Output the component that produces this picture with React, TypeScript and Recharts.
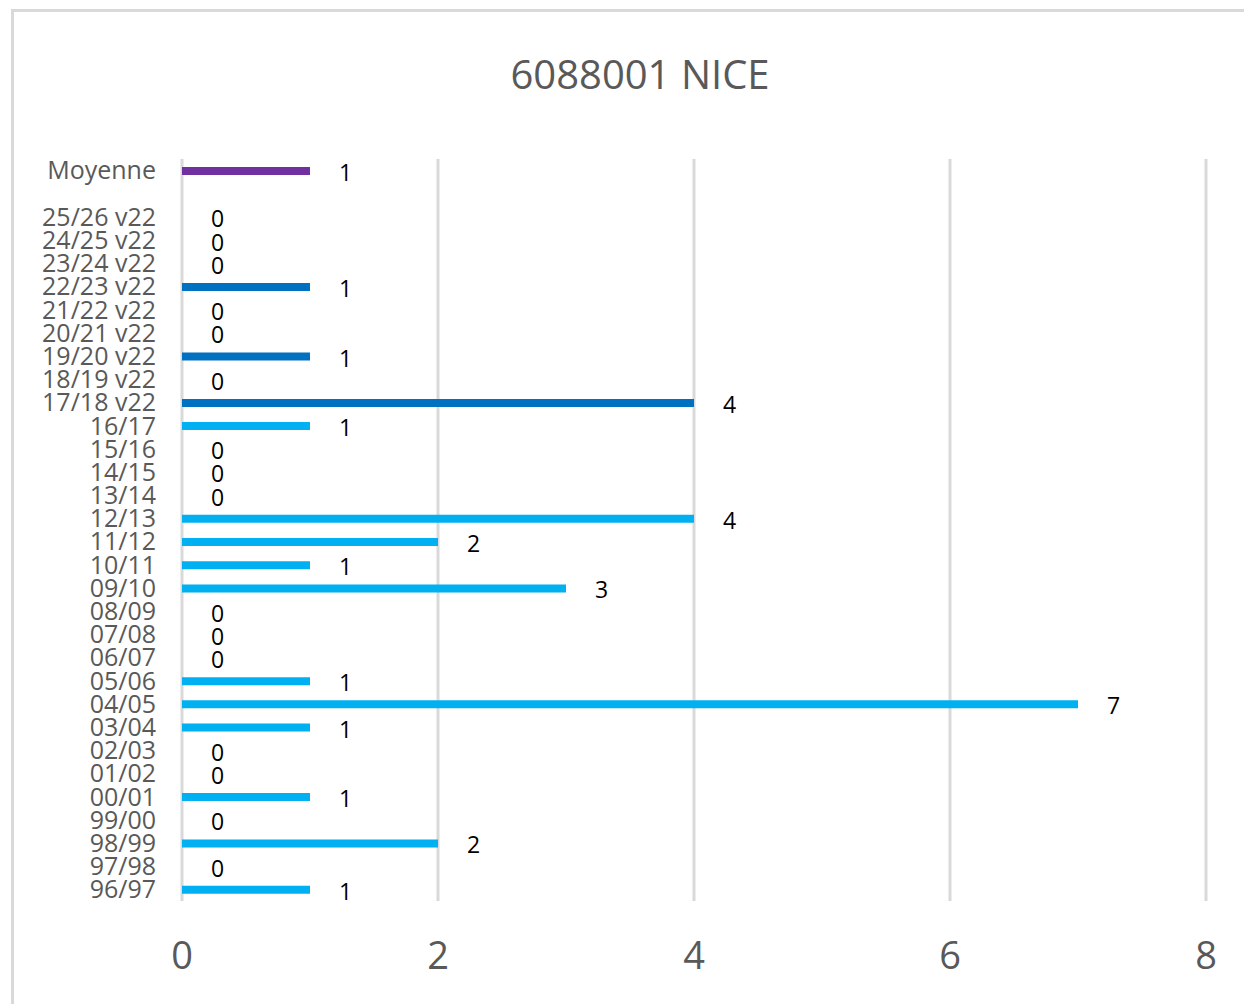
import { BarChart, Bar, XAxis, YAxis, CartesianGrid, Cell, LabelList } from "recharts";

// top to bottom, "" is the empty row between Moyenne and the seasons
const categories = [
  "Moyenne", "",
  "25/26 v22", "24/25 v22", "23/24 v22", "22/23 v22", "21/22 v22", "20/21 v22",
  "19/20 v22", "18/19 v22", "17/18 v22",
  "16/17", "15/16", "14/15", "13/14", "12/13", "11/12", "10/11", "09/10",
  "08/09", "07/08", "06/07", "05/06", "04/05", "03/04", "02/03", "01/02",
  "00/01", "99/00", "98/99", "97/98", "96/97",
];

const values = [
  1, null,
  0, 0, 0, 1, 0, 0,
  1, 0, 4,
  1, 0, 0, 0, 4, 2, 1, 3,
  0, 0, 0, 1, 7, 1, 0, 0,
  1, 0, 2, 0, 1,
];

const xTicks = [0, 2, 4, 6, 8];

const data = categories.map((name, i) => ({ name, value: values[i] }));

const colorFor = (name: string, value: number | null) => {
  if (!value) return "transparent"; // zero rows keep a label but no visible bar
  if (name === "Moyenne") return "#7030a0";
  if (name.includes("v22")) return "#0070c0";
  return "#00b0f0";
};

const ValueLabel = (props: any) => {
  const { x, y, width, height, value } = props;
  if (value === null || value === undefined) return null;
  const w = value === 0 ? 0 : width;
  return (
    <text
      x={x + w + 29}
      y={y + height / 2 + 2}
      dy="0.35em"
      textAnchor="start"
      fontSize={23}
      fontFamily="'Open Sans', sans-serif"
      fill="#000"
    >
      {value}
    </text>
  );
};

export default function App() {
  return (
    <div
      style={{
        position: "relative",
        marginTop: 1,
        marginLeft: 3,
        borderTop: "3px solid #d9d9d9",
        borderLeft: "3px solid #d9d9d9",
        width: 1241,
        height: 995,
        fontFamily: "'Open Sans', sans-serif",
      }}
    >
      <div
        style={{
          position: "absolute",
          top: 39,
          left: 0,
          width: 1252,
          textAlign: "center",
          fontSize: 40,
          color: "#595959",
          lineHeight: "46px",
        }}
      >
        6088001 NICE
      </div>
      <BarChart
        width={1238}
        height={991}
        data={data}
        layout="vertical"
        barSize={8}
        margin={{ top: 147, right: 46, bottom: 20, left: 0 }}
      >
        <CartesianGrid horizontal={false} stroke="#d9d9d9" strokeWidth={3} />
        <XAxis
          type="number"
          domain={[0, 8]}
          ticks={xTicks}
          axisLine={false}
          tickLine={false}
          tickMargin={35}
          height={82}
          tick={{ fontSize: 38, fill: "#595959" }}
        />
        <YAxis
          type="category"
          dataKey="name"
          width={168}
          interval={0}
          axisLine={false}
          tickLine={false}
          tickMargin={20}
          tick={{ fontSize: 25, fill: "#595959" }}
        />
        <Bar dataKey="value" minPointSize={1} isAnimationActive={false}>
          {data.map((d, i) => (
            <Cell key={i} fill={colorFor(d.name, d.value)} />
          ))}
          <LabelList dataKey="value" content={ValueLabel} />
        </Bar>
      </BarChart>
    </div>
  );
}
